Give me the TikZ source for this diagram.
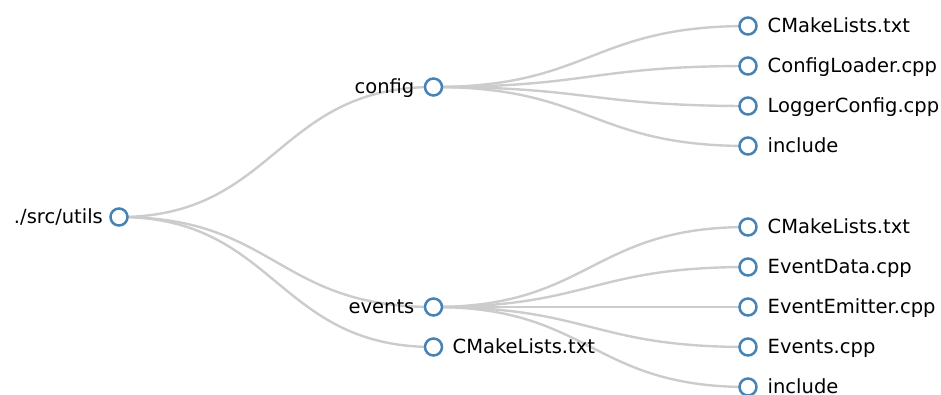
\documentclass[tikz,border=0pt]{standalone}
\usepackage{fontspec}
\setmainfont{DejaVu Sans}
\usetikzlibrary{calc}

\definecolor{linkgray}{HTML}{CCCCCC}
\definecolor{steel}{HTML}{4682B4}

\tikzset{
  dot/.style={circle, draw=steel, fill=white, line width=2.5pt, minimum size=17pt, inner sep=0pt},
  link/.style={draw=linkgray, line width=2.4pt},
  lbl/.style={inner sep=0pt, font=\fontsize{19.5}{22}\selectfont, text=black},
  lblL/.style={lbl, anchor=base east},
  lblR/.style={lbl, anchor=base west},
}

% horizontal tree link: cubic curve with both controls at the mid x
\newcommand{\treelink}[2]{%
  \draw[link] (#1.center) .. controls ($(#1.center)!0.5!(#2.center |- #1.center)$)
    and ($(#2.center)!0.5!(#1.center |- #2.center)$) .. (#2.center);}

\begin{document}
\begin{tikzpicture}[x=1pt, y=-1pt]
  \useasboundingbox (0,0) rectangle (941,394);

  % node positions
  \coordinate (pRoot) at (119,217);
  \coordinate (pConfig) at (433.5,87);
  \coordinate (pEvents) at (433.5,307);
  \coordinate (pCmake) at (433.5,347);
  \coordinate (pC1) at (748,26);
  \coordinate (pC2) at (748,66);
  \coordinate (pC3) at (748,106);
  \coordinate (pC4) at (748,146);
  \coordinate (pE1) at (748,227);
  \coordinate (pE2) at (748,267);
  \coordinate (pE3) at (748,307);
  \coordinate (pE4) at (748,347);
  \coordinate (pE5) at (748,387);

  % links (drawn first, below the circles)
  \foreach \a/\b in {pRoot/pConfig, pRoot/pEvents, pRoot/pCmake,
                     pConfig/pC1, pConfig/pC2, pConfig/pC3, pConfig/pC4,
                     pEvents/pE1, pEvents/pE2, pEvents/pE3, pEvents/pE4, pEvents/pE5}
    {\treelink{\a}{\b}}

  % circles
  \foreach \p in {pRoot, pConfig, pEvents, pCmake, pC1, pC2, pC3, pC4, pE1, pE2, pE3, pE4, pE5}
    {\node[dot] (n\p) at (\p) {};}

  % labels
  \node[lblL] (tRoot) at ($(pRoot)+(-16,6.8)$) {./src/utils};
  \node[lblL] (tConfig) at ($(pConfig)+(-19,6.8)$) {config};
  \node[lblL] (tEvents) at ($(pEvents)+(-19,6.8)$) {events};
  \node[lblR] (tCmake) at ($(pCmake)+(19,6.8)$) {CMakeLists.txt};
  \node[lblR] (tC1) at ($(pC1)+(19.5,6.8)$) {CMakeLists.txt};
  \node[lblR] (tC2) at ($(pC2)+(19.5,6.8)$) {ConfigLoader.cpp};
  \node[lblR] (tC3) at ($(pC3)+(19.5,6.8)$) {LoggerConfig.cpp};
  \node[lblR] (tC4) at ($(pC4)+(19.5,6.8)$) {include};
  \node[lblR] (tE1) at ($(pE1)+(19.5,6.8)$) {CMakeLists.txt};
  \node[lblR] (tE2) at ($(pE2)+(19.5,6.8)$) {EventData.cpp};
  \node[lblR] (tE3) at ($(pE3)+(19.5,6.8)$) {EventEmitter.cpp};
  \node[lblR] (tE4) at ($(pE4)+(19.5,6.8)$) {Events.cpp};
  \node[lblR] (tE5) at ($(pE5)+(19.5,6.8)$) {include};
\end{tikzpicture}
\end{document}
